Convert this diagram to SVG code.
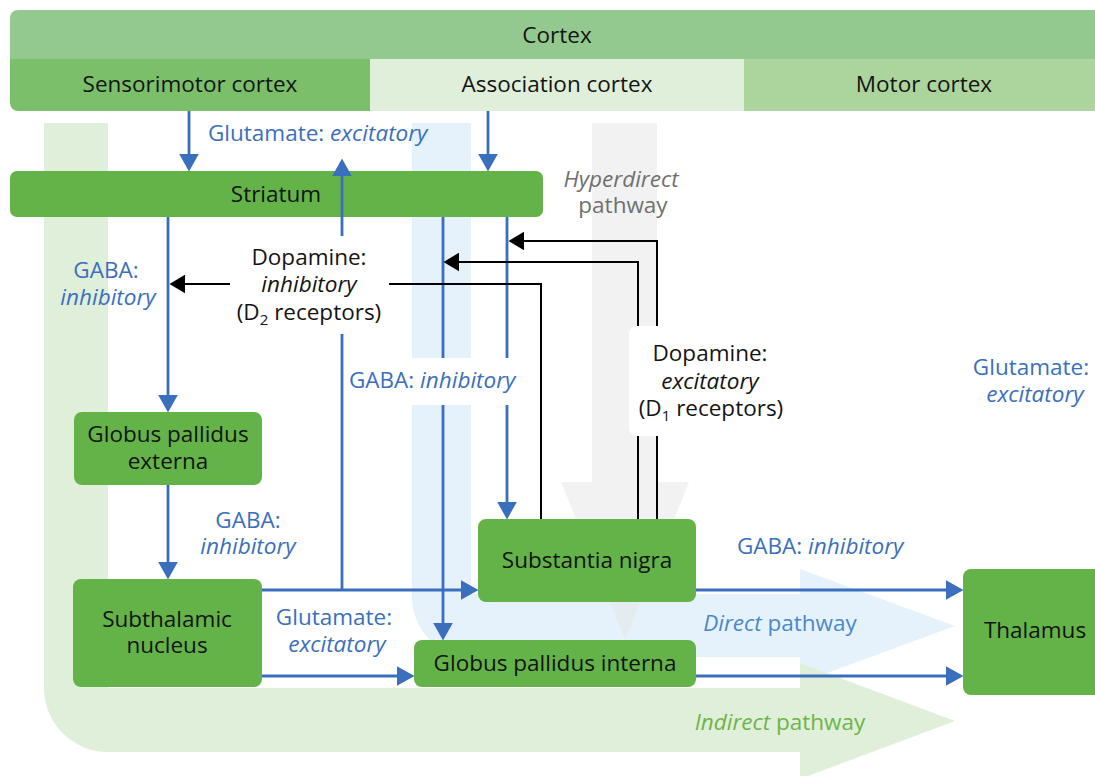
<svg xmlns="http://www.w3.org/2000/svg" width="1095" height="776" viewBox="0 0 1095 776">
  <defs>
    <clipPath id="cortexClip">
      <rect x="10" y="10" width="1094" height="101" rx="8"/>
    </clipPath>
    <marker id="blueHead" markerUnits="userSpaceOnUse" markerWidth="18" markerHeight="20" viewBox="0 0 17 19" refX="7" refY="9.5" orient="auto">
      <path d="M0,0 L17,9.5 L0,19 Z" fill="#3a6fbd"/>
    </marker>
    <marker id="blackHead" markerUnits="userSpaceOnUse" markerWidth="16" markerHeight="19" viewBox="0 0 15 18" refX="6" refY="9" orient="auto">
      <path d="M0,0 L15,9 L0,18 Z" fill="#000"/>
    </marker>
  </defs>
  <style>
    text { font-family: "Open Sans", "Noto Sans", "Liberation Sans", sans-serif; font-size: 22.5px; fill: #141414; }
    .mid { text-anchor: middle; }
    .it { font-style: italic; }
    .blue { fill: #3a6fbd; }
    .gray { fill: #707070; }
    .dblue { fill: #4a88c9; }
    .dgreen { fill: #6cb547; }
    .node { fill: #64b348; }
    .bl { stroke: #3a6fbd; stroke-width: 2.8; fill: none; }
    .bk { stroke: #000; stroke-width: 2; fill: none; }
    .lbl { fill: #fff; }
  </style>

  <rect width="1095" height="776" fill="#fff"/>

  <!-- pathway bands -->
  <g id="pathways">
    <path id="direct-band" d="M412,123 H471 V594 H800 V569 L955,626 L800,683 V657 H472 A60,60 0 0 1 412,597 Z" fill="#e5f2fb"/>
    <path id="indirect-band" d="M44,123 H108 V688 H800 V663 L955,721 L800,779 V752 H108 A64,64 0 0 1 44,688 Z" fill="#e0efd9"/>
    <path id="hyperdirect-band" d="M592,123 H657 V482 H689 L625,640 L561,482 H592 Z" fill="#e6e6e6" fill-opacity="0.5"/>
  </g>

  <!-- cortex -->
  <g id="cortex" clip-path="url(#cortexClip)">
    <rect x="10" y="10" width="1094" height="50" fill="#93c98e"/>
    <rect x="10" y="59" width="360" height="52" fill="#7bbf6a"/>
    <rect x="370" y="59" width="374" height="52" fill="#e0efd9"/>
    <rect x="744" y="59" width="360" height="52" fill="#acd59d"/>
  </g>
  <g id="cortex-labels">
    <text class="mid" x="557" y="43">Cortex</text>
    <text class="mid" x="190" y="92">Sensorimotor cortex</text>
    <text class="mid" x="557" y="92">Association cortex</text>
    <text class="mid" x="924" y="92">Motor cortex</text>
  </g>

  <g id="striatum">
    <rect class="node" x="10" y="171" width="533" height="46" rx="7"/>
    <text class="mid" x="276" y="202">Striatum</text>
  </g>

  <!-- connectors -->
  <g id="connectors">
    <line class="bl" x1="189" y1="111" x2="189" y2="161" marker-end="url(#blueHead)"/>
    <line class="bl" x1="488" y1="111" x2="488" y2="161" marker-end="url(#blueHead)"/>
    <line class="bl" x1="342" y1="590" x2="342" y2="169" marker-end="url(#blueHead)"/>
    <line class="bl" x1="168" y1="217" x2="168" y2="402" marker-end="url(#blueHead)"/>
    <line class="bl" x1="168" y1="485" x2="168" y2="569" marker-end="url(#blueHead)"/>
    <line class="bl" x1="443" y1="217" x2="443" y2="630" marker-end="url(#blueHead)"/>
    <line class="bl" x1="507" y1="217" x2="507" y2="509" marker-end="url(#blueHead)"/>
    <line class="bl" x1="262" y1="590" x2="468" y2="590" marker-end="url(#blueHead)"/>
    <line class="bl" x1="262" y1="676" x2="404" y2="676" marker-end="url(#blueHead)"/>
    <line class="bl" x1="696" y1="590" x2="953" y2="590" marker-end="url(#blueHead)"/>
    <line class="bl" x1="696" y1="676" x2="953" y2="676" marker-end="url(#blueHead)"/>

    <polyline class="bk" points="389,284 541,284 541,520"/>
    <line class="bk" x1="230" y1="284" x2="179" y2="284" marker-end="url(#blackHead)"/>
    <polyline class="bk" points="638,520 638,262 453,262" marker-end="url(#blackHead)"/>
    <polyline class="bk" points="657,520 657,241 518,241" marker-end="url(#blackHead)"/>
  </g>

  <!-- label backgrounds -->
  <rect class="lbl" x="232" y="236" width="155" height="98"/>
  <rect class="lbl" x="347" y="358" width="188" height="47"/>
  <rect class="lbl" x="629" y="326" width="165" height="110" rx="8"/>

  <!-- nodes -->
  <g id="gpe">
    <rect class="node" x="74" y="412" width="188" height="73" rx="8"/>
    <text class="mid" x="168" y="442">Globus pallidus</text>
    <text class="mid" x="168" y="469">externa</text>
  </g>
  <g id="stn">
    <rect class="node" x="73" y="579" width="189" height="108" rx="8"/>
    <text class="mid" x="167" y="627">Subthalamic</text>
    <text class="mid" x="167" y="653">nucleus</text>
  </g>
  <g id="sn">
    <rect class="node" x="478" y="519" width="218" height="83" rx="8"/>
    <text class="mid" x="587" y="568">Substantia nigra</text>
  </g>
  <g id="gpi">
    <rect class="node" x="414" y="640" width="282" height="47" rx="8"/>
    <text class="mid" x="555" y="671">Globus pallidus interna</text>
  </g>
  <g id="thalamus">
    <rect class="node" x="963" y="569" width="150" height="126" rx="8"/>
    <text class="mid" x="1035" y="638">Thalamus</text>
  </g>

  <!-- labels -->
  <g id="labels">
    <text class="blue" x="208" y="141">Glutamate: <tspan class="it">excitatory</tspan></text>
    <text class="gray it mid" x="621" y="187">Hyperdirect</text>
    <text class="gray mid" x="623" y="213">pathway</text>

    <text class="blue mid" x="106" y="278">GABA:</text>
    <text class="blue it mid" x="108" y="305">inhibitory</text>

    <text class="mid" x="309" y="265">Dopamine:</text>
    <text class="it mid" x="309" y="292">inhibitory</text>
    <text class="mid" x="309" y="320">(D<tspan font-size="15" dy="5">2</tspan><tspan dy="-5"> receptors)</tspan></text>

    <text class="blue" x="349" y="388">GABA: <tspan class="it">inhibitory</tspan></text>

    <text class="mid" x="710" y="361">Dopamine:</text>
    <text class="it mid" x="710" y="389">excitatory</text>
    <text class="mid" x="711" y="416">(D<tspan font-size="15" dy="5">1</tspan><tspan dy="-5"> receptors)</tspan></text>

    <text class="blue mid" x="1031" y="375">Glutamate:</text>
    <text class="blue it mid" x="1035" y="402">excitatory</text>

    <text class="blue mid" x="248" y="528">GABA:</text>
    <text class="blue it mid" x="248" y="554">inhibitory</text>

    <text class="blue" x="737" y="554">GABA: <tspan class="it">inhibitory</tspan></text>

    <text class="blue mid" x="334" y="625">Glutamate:</text>
    <text class="blue it mid" x="337" y="652">excitatory</text>

    <text class="dblue mid" x="780" y="631"><tspan class="it">Direct</tspan> pathway</text>
    <text class="dgreen mid" x="780" y="730"><tspan class="it">Indirect</tspan> pathway</text>
  </g>
</svg>
